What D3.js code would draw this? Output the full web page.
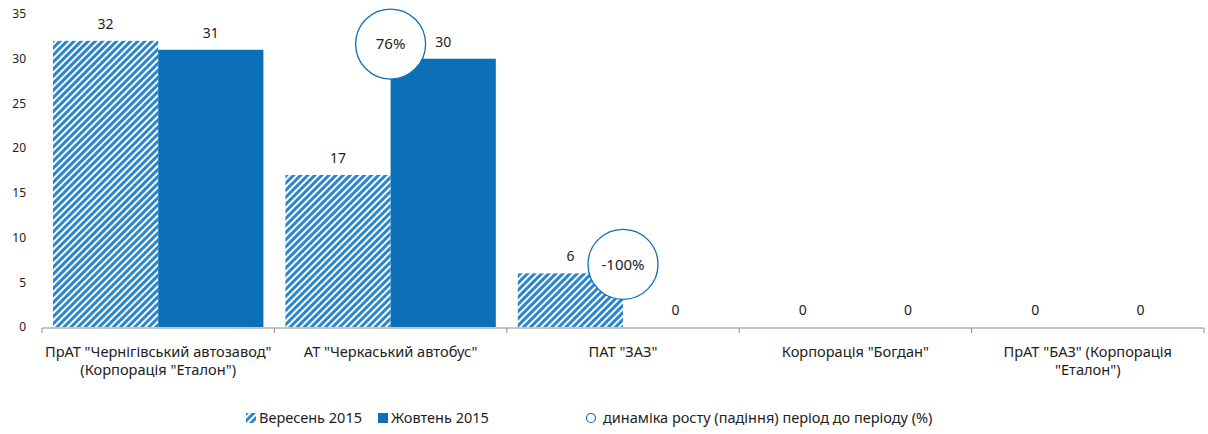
<!DOCTYPE html>
<html><head><meta charset="utf-8">
<script src="https://cdn.jsdelivr.net/npm/d3@7"></script>
<style>body{margin:0;background:#fff}svg{display:block}text{font-family:"Noto Sans",sans-serif}</style>
</head><body><svg id="c" width="1208" height="434"></svg>
<script>
const categories = [
  ['ПрАТ "Чернігівський автозавод"', '(Корпорація "Еталон")'],
  ['АТ "Черкаський автобус"'],
  ['ПАТ "ЗАЗ"'],
  ['Корпорація "Богдан"'],
  ['ПрАТ "БАЗ" (Корпорація', '"Еталон")']
];
const seriesNames = ["Вересень 2015", "Жовтень 2015"];
const september = [32, 17, 6, 0, 0];
const october = [31, 30, 0, 0, 0];
const growth = [null, 0.76, -1.0, null, null];
const growthLabels = [null, "76%", "-100%", null, null];
const legendGrowth = "динаміка росту (падіння) період до періоду (%)";
const yTicks = [0, 5, 10, 15, 20, 25, 30, 35];

const blue = "#0c70b8";
const svg = d3.select("#c");
const defs = svg.append("defs");
const pat = defs.append("pattern").attr("id", "hatch").attr("patternUnits", "userSpaceOnUse")
  .attr("width", 5).attr("height", 5).attr("patternTransform", "rotate(45)");
pat.append("rect").attr("width", 5).attr("height", 5).attr("fill", "#fff");
pat.append("rect").attr("width", 3).attr("height", 5).attr("fill", "#2a86cc");

const idx = d3.range(categories.length);
const x0 = d3.scaleBand().domain(idx).range([42, 1204]).padding(0);
const x1 = d3.scaleBand().domain([0, 1]).range([11, x0.bandwidth() - 11]).padding(0);
const y = d3.scaleLinear().domain([0, 35]).range([327, 14]);
const y2 = d3.scaleLinear().domain([-1.5, 1.0]).range([327, 14]);

// y axis labels
const ya = svg.append("g").attr("transform", "translate(30,0)")
  .call(d3.axisLeft(y).tickValues(yTicks).tickSize(0).tickPadding(4));
ya.select(".domain").remove();
ya.selectAll("text").attr("font-size", 12).attr("fill", "#222").attr("font-family", "Noto Sans");

// bars
const data = [september, october];
data.forEach((vals, s) => {
  svg.append("g").selectAll("rect").data(vals).join("rect")
    .attr("x", (d, i) => x0(i) + x1(s))
    .attr("width", x1.bandwidth())
    .attr("y", d => y(d))
    .attr("height", d => y(0) - y(d))
    .attr("fill", s === 0 ? "url(#hatch)" : blue);
  svg.append("g").selectAll("text").data(vals).join("text")
    .attr("x", (d, i) => x0(i) + x1(s) + x1.bandwidth() / 2)
    .attr("y", d => y(d) - 12)
    .attr("text-anchor", "middle").attr("font-size", 14).attr("fill", "#222")
    .text(d => d);
});

// x axis
const xa = svg.append("g").attr("transform", "translate(0,328)");
xa.append("line").attr("x1", 42).attr("x2", 1204).attr("stroke", "#8c8c8c");
xa.selectAll("line.t").data(d3.range(categories.length + 1)).join("line").attr("class", "t")
  .attr("x1", i => 42 + i * x0.bandwidth()).attr("x2", i => 42 + i * x0.bandwidth())
  .attr("y1", 0).attr("y2", 5).attr("stroke", "#8c8c8c");
const cl = svg.append("g").selectAll("text").data(categories).join("text")
  .attr("text-anchor", "middle").attr("font-size", 14.6).attr("fill", "#222");
cl.each(function (lines, i) {
  d3.select(this).selectAll("tspan").data(lines).join("tspan")
    .attr("x", x0(i) + x0.bandwidth() / 2).attr("y", (d, j) => 357 + j * 18).text(d => d);
});

// growth circles
const gp = idx.filter(i => growth[i] !== null);
const gg = svg.append("g").selectAll("g").data(gp).join("g")
  .attr("transform", i => `translate(${x0(i) + x0.bandwidth() / 2},${y2(growth[i])})`);
gg.append("circle").attr("r", 35).attr("fill", "#fff").attr("stroke", blue).attr("stroke-width", 1.3);
gg.append("text").attr("text-anchor", "middle").attr("dy", "0.36em").attr("font-size", 15).attr("fill", "#222")
  .text(i => growthLabels[i]);

// legend
const lg = svg.append("g").attr("font-size", 14.5).attr("fill", "#222");
lg.append("rect").attr("x", 246).attr("y", 413).attr("width", 10).attr("height", 10).attr("fill", "url(#hatch)");
lg.append("text").attr("x", 259).attr("y", 423).text(seriesNames[0]);
lg.append("rect").attr("x", 378).attr("y", 413).attr("width", 10).attr("height", 10).attr("fill", blue);
lg.append("text").attr("x", 391).attr("y", 423).text(seriesNames[1]);
lg.append("circle").attr("cx", 591).attr("cy", 418).attr("r", 4.5).attr("fill", "#fff").attr("stroke", blue).attr("stroke-width", 1.2);
lg.append("text").attr("x", 603).attr("y", 423).text(legendGrowth);
</script></body></html>
